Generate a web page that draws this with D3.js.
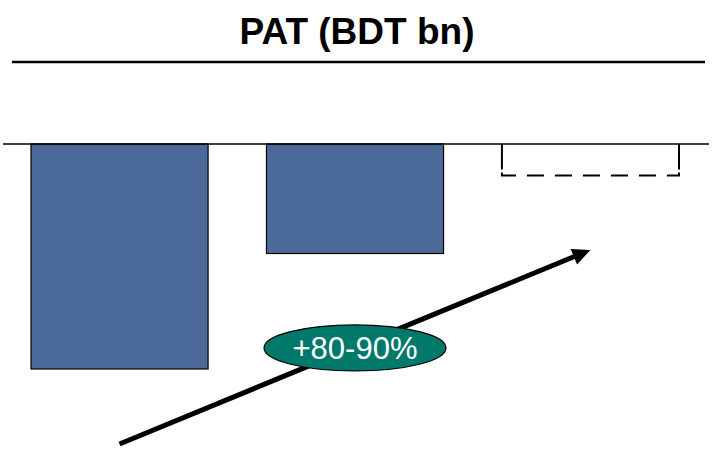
<!DOCTYPE html>
<html>
<head>
<meta charset="utf-8">
<script src="https://cdn.jsdelivr.net/npm/d3@7/dist/d3.min.js"></script>
<style>
  html, body { margin: 0; padding: 0; background: #fff; }
  svg { display: block; }
</style>
</head>
<body>
<div id="chart"></div>
<script>
// Profit after tax by period (BDT bn); the last period is a projection
const periods = ["P1", "P2", "P3"];
const patValues = [-7.5, -3.65, -1.05];
const projected = [false, false, true];

// Trend arrow: runs between the centres of the first and last bars
const arrowValues = [-10, -3.53];
const trendLabel = "+80-90%";
const titleText = "PAT (BDT bn)";

const width = 719, height = 455;

const svg = d3.select("#chart").append("svg")
  .attr("width", width)
  .attr("height", height);

const x = d3.scaleBand()
  .domain(periods)
  .range([31, 679])
  .paddingInner(0.248)
  .paddingOuter(0);

const y = d3.scaleLinear()
  .domain([-8, 0])
  .range([384, 144]);

// Title and rule beneath it
svg.append("text")
  .attr("x", 357)
  .attr("y", 44)
  .attr("text-anchor", "middle")
  .attr("font-family", "Liberation Sans, Arial, sans-serif")
  .attr("font-weight", "bold")
  .attr("font-size", 37)
  .attr("fill", "#000")
  .text(titleText);

svg.append("line")
  .attr("x1", 12).attr("x2", 705)
  .attr("y1", 62).attr("y2", 62)
  .attr("stroke", "#000")
  .attr("stroke-width", 2.5);

const data = periods.map((p, i) => ({ period: p, value: patValues[i], projected: projected[i] }));

// Actual bars
svg.selectAll("rect.bar")
  .data(data.filter(d => !d.projected))
  .join("rect")
  .attr("class", "bar")
  .attr("x", d => x(d.period))
  .attr("y", d => y(Math.max(0, d.value)))
  .attr("width", x.bandwidth())
  .attr("height", d => Math.abs(y(d.value) - y(0)))
  .attr("fill", "#4b6a9a")
  .attr("stroke", "#000")
  .attr("stroke-width", 1.2);

// Projected bar: open outline, dashed bottom edge
data.filter(d => d.projected).forEach(d => {
  const x0 = x(d.period), x1 = x0 + x.bandwidth();
  const yb = y(d.value), y0 = y(0);
  const g = svg.append("g").attr("fill", "none").attr("stroke", "#000").attr("stroke-width", 2);
  g.append("path").attr("d", `M${x0},${y0}V${yb - 6}`);
  g.append("path").attr("d", `M${x1},${y0}V${yb - 6}`);
  g.append("path").attr("d", `M${x0},${yb - 3}V${yb}H${x1}V${yb - 3}`)
    .attr("stroke-dasharray", "17,11");
});

// Zero baseline
svg.append("line")
  .attr("x1", 3).attr("x2", 709)
  .attr("y1", y(0)).attr("y2", y(0))
  .attr("stroke", "#000")
  .attr("stroke-width", 1.5);

// Trend arrow
const ax0 = x(periods[0]) + x.bandwidth() / 2;
const ax1 = x(periods[2]) + x.bandwidth() / 2;
const ay0 = y(arrowValues[0]);
const ay1 = y(arrowValues[1]);
const ang = Math.atan2(ay1 - ay0, ax1 - ax0);
const headLen = 18, headHalf = 8.5;
const bx = ax1 - headLen * Math.cos(ang), by = ay1 - headLen * Math.sin(ang);

svg.append("line")
  .attr("x1", ax0).attr("y1", ay0)
  .attr("x2", bx + 2 * Math.cos(ang)).attr("y2", by + 2 * Math.sin(ang))
  .attr("stroke", "#000")
  .attr("stroke-width", 5);

svg.append("path")
  .attr("d", d3.line()([
    [ax1, ay1],
    [bx + headHalf * Math.sin(ang), by - headHalf * Math.cos(ang)],
    [bx - headHalf * Math.sin(ang), by + headHalf * Math.cos(ang)]
  ]) + "Z")
  .attr("fill", "#000");

// Growth badge at the arrow's midpoint
const mx = (ax0 + ax1) / 2, my = (ay0 + ay1) / 2 + 1;
svg.append("ellipse")
  .attr("cx", mx).attr("cy", my)
  .attr("rx", 91).attr("ry", 23)
  .attr("fill", "#00786a")
  .attr("stroke", "#000")
  .attr("stroke-width", 1.2);

svg.append("text")
  .attr("x", mx).attr("y", my + 11)
  .attr("text-anchor", "middle")
  .attr("font-family", "Liberation Sans, Arial, sans-serif")
  .attr("font-size", 31)
  .attr("fill", "#fff")
  .text(trendLabel);
</script>
</body>
</html>
